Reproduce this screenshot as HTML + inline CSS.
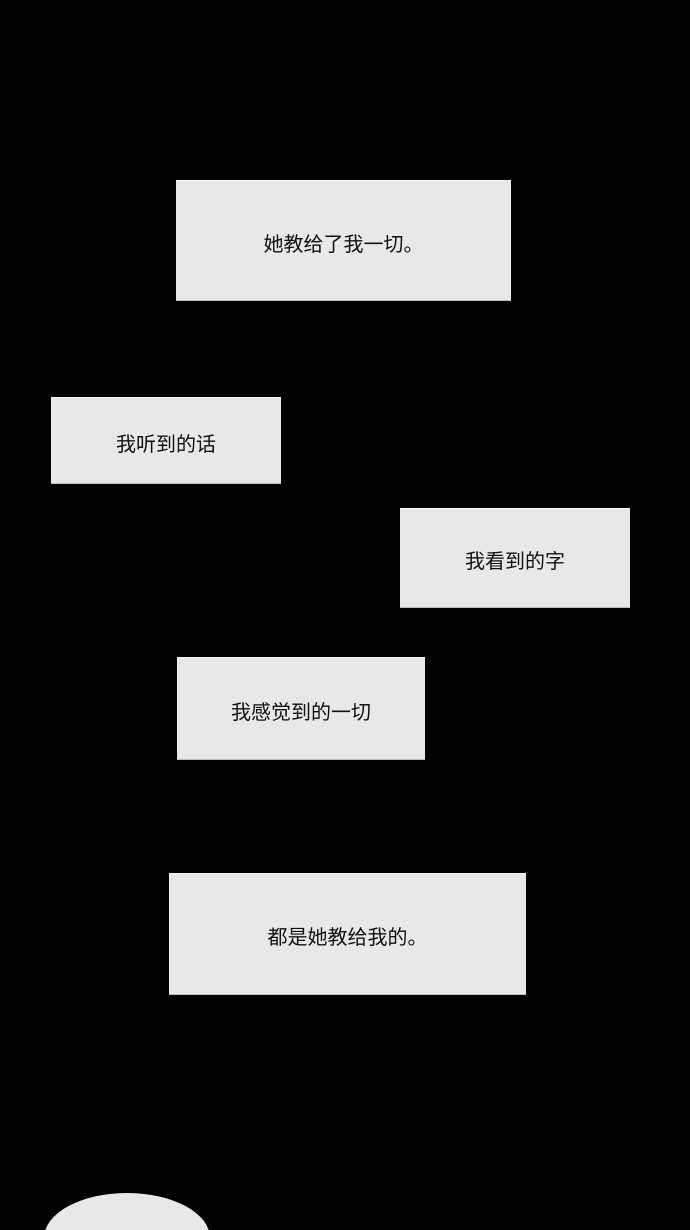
<!DOCTYPE html>
<html><head><meta charset="utf-8"><style>
html,body{margin:0;padding:0;background:#000;width:690px;height:1230px;overflow:hidden;}
body{position:relative;font-family:"Liberation Sans","Noto Sans CJK SC",sans-serif;}
.b{position:absolute;background:#e8e8e8;display:flex;align-items:center;justify-content:center;font-size:20px;color:#111;box-sizing:border-box;border-top:1px solid #f4f4f4;border-bottom:1px solid #bdbdbd;padding-top:3px;}
.e{position:absolute;left:44px;top:1193px;width:166px;height:90px;border-radius:50%;background:#e8e8e8;}
</style></head><body>
<div class="b" style="left:176px;top:180px;width:335px;height:121px;">她教给了我一切。</div>
<div class="b" style="left:51px;top:397px;width:230px;height:87px;">我听到的话</div>
<div class="b" style="left:400px;top:508px;width:230px;height:100px;">我看到的字</div>
<div class="b" style="left:177px;top:657px;width:248px;height:103px;">我感觉到的一切</div>
<div class="b" style="left:169px;top:873px;width:357px;height:122px;">都是她教给我的。</div>
<div class="e"></div>
</body></html>
